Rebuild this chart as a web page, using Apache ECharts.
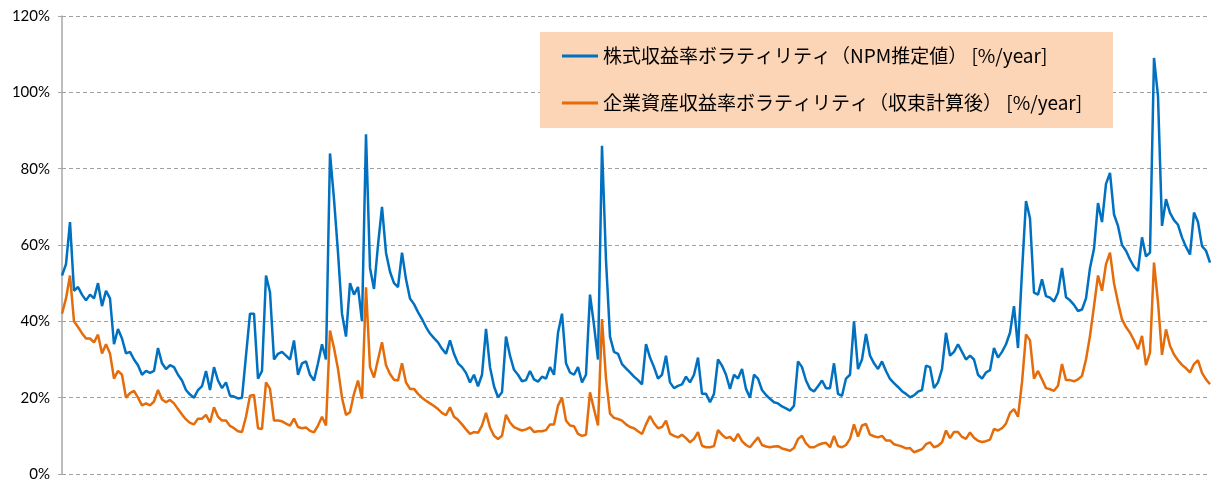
<!DOCTYPE html>
<html lang="ja">
<head>
<meta charset="UTF-8">
<title>ボラティリティ推移</title>
<script src="https://cdn.jsdelivr.net/npm/echarts@6/dist/echarts.min.js"></script>
<style>
  html, body { margin: 0; padding: 0; background: #fff; }
  #chart { width: 1211px; height: 486px; }
</style>
</head>
<body>
<div id="chart"></div>
<script>
// 系列名
const seriesNames = [
  '株式収益率ボラティリティ（NPM推定値） [%/year]',
  '企業資産収益率ボラティリティ（収束計算後） [%/year]'
];

// 株式収益率ボラティリティ（NPM推定値） [%]
const stockVol = [
  52, 55, 66, 48, 49, 47, 45.5, 47, 46, 50,
  44, 48, 46, 34, 38, 35.5, 31.6, 32, 30, 28.5,
  26, 27, 26.5, 27, 33, 29, 27.5, 28.5, 28, 26,
  24.5, 22, 20.8, 20, 22, 23, 27, 22, 28, 24.5,
  22.5, 24, 20.5, 20.3, 19.8, 20, 31, 42, 42, 25,
  27, 52, 47.6, 30, 31.5, 32, 31, 30, 35, 26,
  29, 29.5, 26, 24.5, 29, 34, 30, 84, 72, 58,
  42, 36, 50, 47, 49, 40, 89, 54, 48.5, 60,
  70, 58, 53, 50, 49, 58, 51, 46, 44.5, 42.4,
  40.6, 38.5, 36.8, 35.6, 34.5, 32.8, 31.5, 35, 31.5, 29,
  28, 26.5, 24, 26, 23, 26, 38, 28, 23, 20.1,
  21.4, 36, 31, 27.3, 26, 24.3, 24.6, 27, 24.8, 24.2,
  25.5, 25, 28, 26, 37, 42, 29, 26.6, 26, 28,
  24, 26, 47, 39, 30, 86, 56, 36, 32, 31.5,
  28.8, 27.7, 26.6, 25.5, 24.6, 23.5, 34, 30.5, 28, 25,
  26, 31, 24, 22.5, 23.1, 23.5, 25.5, 24, 26, 30.5,
  21, 21, 18.8, 21, 30, 28.4, 26, 22.3, 26, 25,
  27.5, 22.3, 20, 26, 25, 22, 20.7, 19.7, 18.8, 18.5,
  17.7, 17.2, 16.6, 17.9, 29.5, 28, 24.5, 22.3, 21.6, 23,
  24.5, 22.5, 22.5, 29, 21, 20.5, 25, 26, 40, 27.5,
  30, 36.7, 31, 29, 27.5, 29.5, 27, 24.9, 23.8, 22.8,
  21.7, 21, 20.1, 20.6, 21.6, 22, 28.4, 28, 22.5, 24,
  27.5, 37, 31, 32, 34, 32, 30, 31, 30, 26,
  25, 26.6, 27.2, 33, 30.5, 32, 34, 37, 44, 33,
  53, 71.5, 67, 47.5, 47, 51, 46.6, 46.2, 45.2, 47.5,
  54, 46.3, 45.5, 44.3, 42.7, 43.1, 46, 54, 59, 71,
  66, 76, 78.9, 68, 65, 60, 58.5, 56.2, 54.3, 53.2,
  62, 57, 58, 109, 99, 65, 72, 68.4, 66.5, 65.3,
  62, 59.5, 57.5, 68.5, 66, 59.7, 58.5, 55.4
];

// 企業資産収益率ボラティリティ（収束計算後） [%]
const assetVol = [
  42, 46, 52, 40, 38.5, 36.9, 35.5, 35.5, 34.5, 36.5,
  31.6, 34, 31.6, 25, 27, 26, 20, 21.2, 21.8, 20,
  18, 18.5, 18, 19, 22, 19.5, 18.8, 19.4, 18.5, 17,
  15.6, 14.3, 13.4, 13, 14.5, 14.5, 15.5, 13.5, 17.5, 15,
  14, 14, 12.6, 12, 11.2, 11, 15, 20.5, 20.7, 12,
  11.8, 24, 22.3, 14, 14, 13.8, 13.2, 12.7, 14.5, 12.3,
  12, 12.2, 11.3, 10.9, 12.7, 15, 12.7, 37.6, 33, 27.5,
  20, 15.5, 16.2, 21, 24.5, 19.7, 48.9, 28, 25.3, 30,
  34.5, 28.5, 26.2, 24.7, 24.5, 29, 24, 22.3, 22.3, 21,
  20, 19.2, 18.5, 17.8, 17, 16, 15.4, 17.5, 15, 14.2,
  13, 11.7, 10.5, 11, 10.8, 12.7, 16, 12.2, 10, 9.2,
  10, 15.5, 13.5, 12.3, 11.8, 11.4, 11.7, 12.2, 11, 11.2,
  11.2, 11.5, 13, 13, 17.9, 20, 14, 12.7, 12.5, 10.5,
  10, 10.3, 21.4, 17, 12.7, 40.6, 25, 15.8, 14.7, 14.4,
  14, 13, 12.3, 12, 11.2, 10.5, 13, 15.2, 13.3, 12,
  12.3, 14, 10.6, 10, 9.6, 10.3, 9.4, 8.3, 9.2, 11,
  7.4, 7, 7, 7.3, 11.5, 10.3, 9.4, 9.7, 8.6, 10.5,
  8.6, 7.6, 7, 8.3, 9.6, 7.6, 7.2, 7, 7.2, 7.3,
  6.7, 6.4, 6.1, 6.8, 9.2, 10, 8, 7, 7, 7.6,
  8, 8.2, 7, 10, 7.3, 7, 7.6, 9.2, 13, 9.8,
  12.7, 13.1, 10.3, 9.9, 9.6, 10, 8.8, 8.8, 7.8, 7.5,
  7.2, 6.7, 6.8, 5.7, 6.1, 6.5, 7.8, 8.3, 7, 7.4,
  8.3, 11.4, 9.4, 11, 11, 9.7, 9.2, 10.9, 9.5, 8.7,
  8.4, 8.6, 9, 11.8, 11.4, 12, 13.2, 16, 17, 15,
  24, 36.6, 35, 25, 27, 24.8, 22.5, 22.2, 21.8, 23.1,
  28.8, 24.6, 24.6, 24.3, 24.8, 25.7, 30, 36.2, 44, 52,
  48, 55, 58, 50, 45, 40.5, 38.5, 37, 35, 32.7,
  36.2, 28.5, 31.8, 55.4, 45, 31.2, 37.9, 33.6, 31.3, 29.8,
  28.6, 27.7, 26.6, 28.8, 29.8, 26.5, 24.8, 23.5
];

// 縦軸の範囲（%）
const yMin = 0;
const yMax = 120;
const yStep = 20;

// 横軸は観測順（ラベル表示なし）
const periods = stockVol.map((_, i) => String(i + 1));

const chart = echarts.init(document.getElementById('chart'));

const option = {
  animation: false,
  backgroundColor: '#ffffff',
  grid: {
    left: 62,
    right: 1,
    top: 16,
    bottom: 12,
    containLabel: false
  },
  // 凡例の背景枠
  graphic: [
    {
      type: 'rect',
      left: 540,
      top: 32,
      z: 3,
      shape: { width: 573, height: 96 },
      style: { fill: '#FBD5B5' }
    }
  ],
  legend: {
    data: seriesNames,
    orient: 'vertical',
    left: 557,
    top: 38,
    z: 5,
    icon: 'rect',
    itemWidth: 36,
    itemHeight: 3,
    itemGap: 21,
    selectedMode: false,
    textStyle: {
      fontFamily: '"Noto Sans CJK JP", sans-serif',
      fontSize: 19,
      lineHeight: 26,
      color: '#000'
    }
  },
  xAxis: {
    type: 'category',
    data: periods,
    boundaryGap: false,
    axisLine: { show: false },
    axisTick: { show: false },
    axisLabel: { show: false },
    splitLine: { show: false }
  },
  yAxis: {
    type: 'value',
    min: yMin,
    max: yMax,
    interval: yStep,
    axisLine: {
      show: true,
      lineStyle: { color: '#A6A6A6', width: 1.5 }
    },
    axisTick: {
      show: true,
      length: 4,
      lineStyle: { color: '#A6A6A6' }
    },
    axisLabel: {
      formatter: '{value}%',
      margin: 12,
      fontFamily: 'Lato, sans-serif',
      fontSize: 15,
      color: '#000'
    },
    splitLine: {
      show: true,
      lineStyle: { color: '#A0A0A0', type: [4, 3], width: 1 }
    }
  },
  series: [
    {
      name: seriesNames[0],
      type: 'line',
      data: stockVol,
      showSymbol: false,
      symbol: 'none',
      z: 2,
      itemStyle: { color: '#0070C0' },
      lineStyle: { color: '#0070C0', width: 2.5 }
    },
    {
      name: seriesNames[1],
      type: 'line',
      data: assetVol,
      showSymbol: false,
      symbol: 'none',
      z: 2,
      itemStyle: { color: '#E46C0A' },
      lineStyle: { color: '#E46C0A', width: 2.5 }
    }
  ]
};

chart.setOption(option);
</script>
</body>
</html>
